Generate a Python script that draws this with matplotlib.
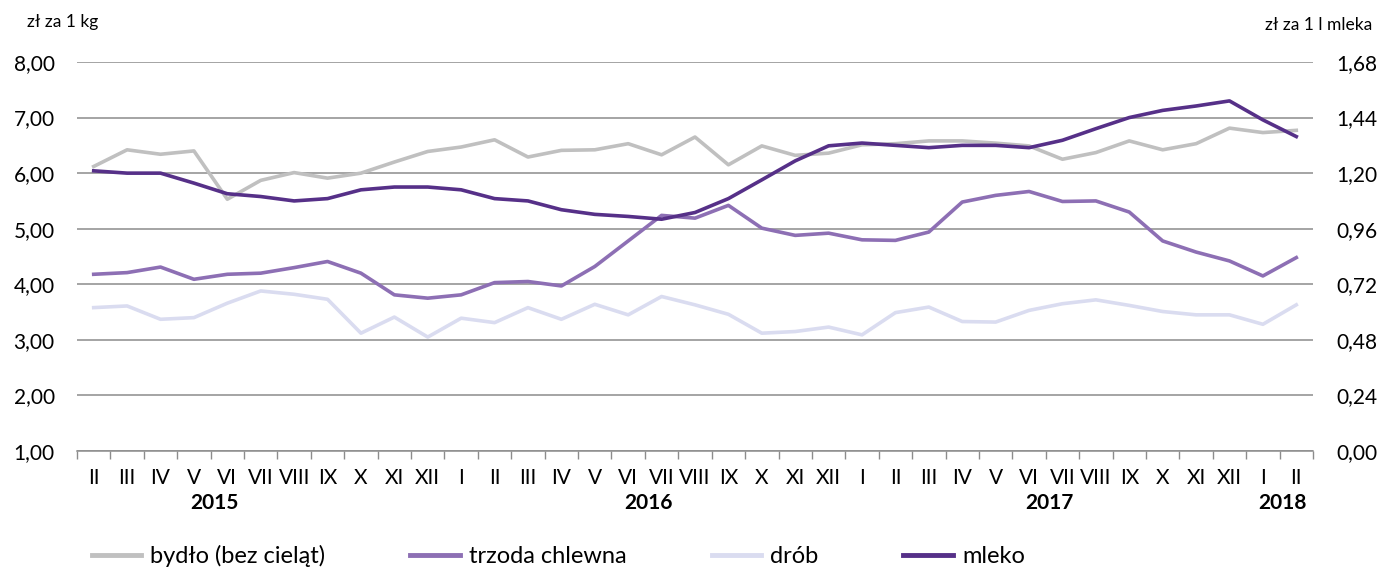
import matplotlib.pyplot as plt
from matplotlib.ticker import FixedLocator, FuncFormatter
from matplotlib.lines import Line2D

plt.rcParams['font.family'] = ['Lato', 'DejaVu Sans']

months = ['II', 'III', 'IV', 'V', 'VI', 'VII', 'VIII', 'IX', 'X', 'XI', 'XII',
          'I', 'II', 'III', 'IV', 'V', 'VI', 'VII', 'VIII', 'IX', 'X', 'XI', 'XII',
          'I', 'II', 'III', 'IV', 'V', 'VI', 'VII', 'VIII', 'IX', 'X', 'XI', 'XII',
          'I', 'II']
years = ['2015', '2016', '2017', '2018']
year_pos = [3.6, 16.6, 28.6, 35.6]

# zł za 1 kg
bydlo = [6.12, 6.42, 6.34, 6.40, 5.53, 5.87, 6.01, 5.91, 6.00, 6.20, 6.39,
         6.47, 6.60, 6.29, 6.41, 6.42, 6.53, 6.33, 6.65, 6.15, 6.49, 6.32, 6.36,
         6.51, 6.53, 6.58, 6.58, 6.54, 6.49, 6.25, 6.37, 6.58, 6.42, 6.53, 6.81,
         6.73, 6.77]
trzoda = [4.18, 4.21, 4.31, 4.09, 4.18, 4.20, 4.30, 4.41, 4.20, 3.81, 3.75,
          3.81, 4.03, 4.05, 3.97, 4.32, 4.78, 5.24, 5.19, 5.42, 5.01, 4.88, 4.92,
          4.80, 4.79, 4.94, 5.48, 5.60, 5.67, 5.49, 5.50, 5.30, 4.78, 4.58, 4.42,
          4.15, 4.48]
drob = [3.58, 3.61, 3.37, 3.40, 3.66, 3.88, 3.82, 3.73, 3.12, 3.41, 3.05,
        3.39, 3.31, 3.58, 3.37, 3.64, 3.45, 3.78, 3.63, 3.46, 3.12, 3.15, 3.23,
        3.09, 3.49, 3.59, 3.33, 3.32, 3.53, 3.65, 3.72, 3.62, 3.51, 3.45, 3.45,
        3.28, 3.63]
# zł za 1 l mleka (prawa oś)
mleko = [1.210, 1.200, 1.200, 1.157, 1.111, 1.099, 1.080, 1.090, 1.128, 1.140, 1.140,
         1.128, 1.090, 1.080, 1.042, 1.022, 1.013, 1.001, 1.030, 1.090, 1.171, 1.253, 1.318,
         1.330, 1.320, 1.310, 1.320, 1.320, 1.310, 1.342, 1.392, 1.440, 1.471, 1.490, 1.512,
         1.430, 1.358]

c_bydlo = '#c0c0c0'
c_trzoda = '#8d6fb4'
c_drob = '#dadcf0'
c_mleko = '#563088'
lw = 2.6

fig = plt.figure(figsize=(13.79, 5.69), dpi=100)
ax = fig.add_axes([77 / 1379, 1 - 451 / 569, (1313 - 77) / 1379, 389 / 569])
ax2 = ax.twinx()

x = list(range(len(months)))
ax.plot(x, bydlo, color=c_bydlo, lw=lw)
ax.plot(x, trzoda, color=c_trzoda, lw=lw)
ax.plot(x, drob, color=c_drob, lw=lw)
ax2.plot(x, mleko, color=c_mleko, lw=lw)

ax.set_xlim(-0.5, len(months) - 0.5)
ax.set_ylim(1, 8)
ax2.set_ylim(0, 1.68)
ax.set_yticks(range(1, 9))
ax2.set_yticks([0, 0.24, 0.48, 0.72, 0.96, 1.20, 1.44, 1.68])
fmt = FuncFormatter(lambda v, p: f'{v:.2f}'.replace('.', ','))
ax.yaxis.set_major_formatter(fmt)
ax2.yaxis.set_major_formatter(fmt)
ax.grid(axis='y', color='#8c8c8c', lw=1.1)
ax.set_axisbelow(True)

for a in (ax, ax2):
    for s in a.spines.values():
        s.set_visible(False)
ax.spines['bottom'].set_visible(True)
ax.spines['bottom'].set_color('#8c8c8c')
ax.spines['bottom'].set_linewidth(1.1)

ax.set_xticks(x)
ax.set_xticklabels(months)
ax.xaxis.set_minor_locator(FixedLocator([i - 0.5 for i in range(len(months) + 1)]))
ax.tick_params(axis='x', which='major', length=0, labelsize=15, pad=12)
ax.tick_params(axis='x', which='minor', length=6, color='#8c8c8c', width=1)
ax.tick_params(axis='y', length=0, labelsize=15, pad=16)
ax2.tick_params(axis='y', length=0, labelsize=15, pad=17)

for yr, xp in zip(years, year_pos):
    ax.annotate(yr, xy=(xp, 0), xycoords=('data', 'axes fraction'),
                xytext=(0, -37.5), textcoords='offset points', ha='center', va='center',
                fontsize=15, fontweight='bold')

fig.text(27 / 1379, 1 - 22 / 569, 'zł za 1 kg', fontsize=12.5, va='center', ha='left')
fig.text(1372 / 1379, 1 - 25 / 569, 'zł za 1 l mleka', fontsize=12.5, va='center', ha='right')

handles = [Line2D([], [], color=c, lw=3.5) for c in (c_bydlo, c_trzoda, c_drob, c_mleko)]
labels = ['bydło (bez cieląt)', 'trzoda chlewna', 'drób', 'mleko']
fig.legend(handles, labels, ncol=4, loc='center left', bbox_to_anchor=(80 / 1379, 1 - 556 / 569),
           frameon=False, fontsize=17, handlelength=2.1, handletextpad=0.38, columnspacing=3.6,
           borderpad=0)

fig.savefig('out.png', dpi=100)
